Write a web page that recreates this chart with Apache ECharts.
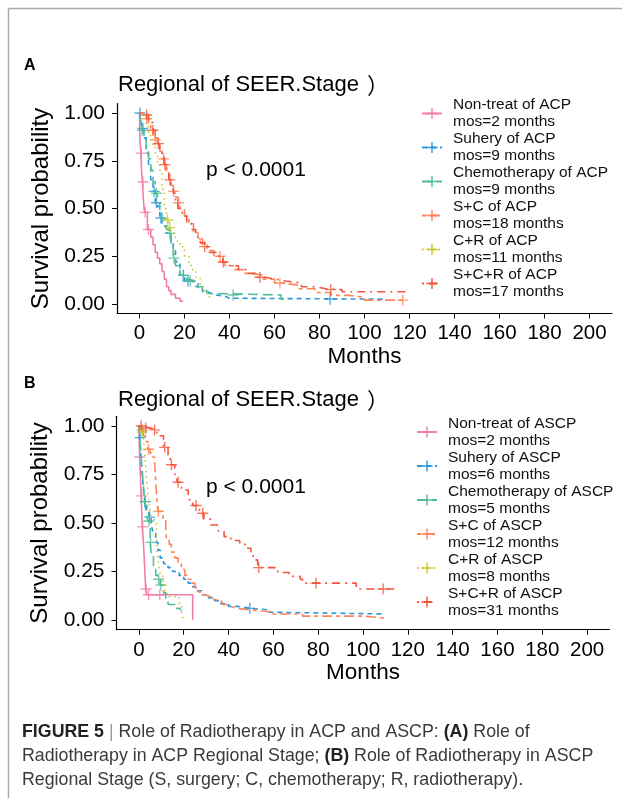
<!DOCTYPE html>
<html>
<head>
<meta charset="utf-8">
<title>Figure 5</title>
<script src="https://cdn.jsdelivr.net/npm/echarts@6/dist/echarts.min.js"></script>
<style>
  html, body { margin: 0; padding: 0; background: #fff; }
  #main { width: 622px; height: 798px; }
</style>
</head>
<body>
<div id="main"></div>
<script>
// axis ticks
var monthTicks = [0, 20, 40, 60, 80, 100, 120, 140, 160, 180, 200];
var survTicks = [0, 0.25, 0.5, 0.75, 1];

// groups + median overall survival (months)
var groupsA = ['Non-treat of ACP', 'Suhery of ACP', 'Chemotherapy of ACP', 'S+C of ACP', 'C+R of ACP', 'S+C+R of ACP'];
var mosA = [2, 9, 9, 18, 11, 17];
var groupsB = ['Non-treat of ASCP', 'Suhery of ASCP', 'Chemotherapy of ASCP', 'S+C of ASCP', 'C+R of ASCP', 'S+C+R of ASCP'];
var mosB = [2, 6, 5, 12, 8, 31];

// ---- panel A : ACP ----
var ntA_t = [0, 0.2, 0.6, 0.9, 1.3, 1.7, 2.2, 3.5, 5, 6, 7, 8, 9, 10, 11, 12, 13, 14, 16, 18, 19];
var ntA_s = [1, 0.87, 0.79, 0.70, 0.64, 0.55, 0.48, 0.39, 0.35, 0.31, 0.27, 0.24, 0.21, 0.17, 0.13, 0.09, 0.07, 0.05, 0.03, 0.015, 0.01];
var ntA_c = [[0.7, 0.79], [1.5, 0.64], [2.5, 0.48], [4, 0.39]];

var suA_t = [0, 0.5, 1, 2, 3, 4, 5, 6, 7, 8, 9, 10, 12, 14, 15, 16, 18, 20, 23, 26, 28, 30, 32, 34, 38, 40, 110];
var suA_s = [1, 0.97, 0.92, 0.87, 0.79, 0.72, 0.65, 0.59, 0.53, 0.51, 0.45, 0.41, 0.37, 0.33, 0.28, 0.22, 0.15, 0.12, 0.11, 0.08, 0.065, 0.055, 0.047, 0.04, 0.03, 0.025, 0.025];
var suA_c = [[0.2, 1], [1.5, 0.92], [6.5, 0.59], [7.5, 0.53], [9.5, 0.45], [19.5, 0.15], [21.5, 0.12], [84.7, 0.025]];

var chA_t = [0, 0.5, 1, 2, 3, 4, 5, 6, 7, 8, 9, 10, 11, 12, 13, 14, 15, 16, 18, 20, 22, 25, 28, 30, 32, 63, 65];
var chA_s = [1, 0.96, 0.91, 0.86, 0.81, 0.76, 0.70, 0.64, 0.58, 0.53, 0.49, 0.45, 0.41, 0.39, 0.37, 0.30, 0.24, 0.20, 0.15, 0.13, 0.12, 0.09, 0.07, 0.055, 0.047, 0.025, 0.025];
var chA_c = [[1.2, 0.91], [7.5, 0.58], [13.5, 0.37], [15.3, 0.24], [19.5, 0.15], [22.5, 0.12], [41.6, 0.047]];

var scA_t = [0, 2, 3, 4, 5, 6, 7, 8, 9, 10, 11, 12, 13, 14, 15, 16, 17, 18, 20, 22, 24, 26, 28, 30, 33, 36, 38, 42, 46, 50, 55, 60, 63, 70, 78, 85, 93, 100, 118];
var scA_s = [1, 0.99, 0.97, 0.95, 0.92, 0.89, 0.86, 0.83, 0.80, 0.76, 0.73, 0.69, 0.66, 0.62, 0.59, 0.56, 0.53, 0.50, 0.46, 0.42, 0.38, 0.34, 0.31, 0.28, 0.25, 0.22, 0.20, 0.18, 0.16, 0.15, 0.13, 0.11, 0.10, 0.08, 0.06, 0.045, 0.035, 0.02, 0.02];
var scA_c = [[3.3, 0.97], [7, 0.86], [10.7, 0.76], [15.2, 0.59], [17.4, 0.53], [35.8, 0.25], [62.4, 0.11], [117, 0.02]];

var crA_t = [0, 2, 3, 4, 5, 6, 7, 8, 9, 10, 11, 12, 13, 14, 16, 18, 20, 22, 23, 25, 27, 29, 31, 33];
var crA_s = [1, 0.98, 0.94, 0.90, 0.86, 0.82, 0.78, 0.74, 0.70, 0.60, 0.50, 0.44, 0.40, 0.37, 0.33, 0.30, 0.25, 0.21, 0.18, 0.14, 0.09, 0.056, 0.038, 0.035];
var crA_c = [[12.5, 0.44], [13.5, 0.40]];

var scrA_t = [0, 2, 4, 5, 6, 7, 8, 9, 10, 11, 12, 13, 14, 15, 16, 17, 19, 21, 23, 25, 27, 29, 31, 34, 37, 40, 44, 48, 52, 56, 60, 65, 72, 78, 83, 90, 119];
var scrA_s = [1, 0.99, 0.97, 0.95, 0.91, 0.87, 0.84, 0.80, 0.77, 0.73, 0.69, 0.65, 0.61, 0.58, 0.54, 0.50, 0.46, 0.43, 0.39, 0.35, 0.32, 0.30, 0.27, 0.25, 0.22, 0.20, 0.18, 0.16, 0.14, 0.13, 0.12, 0.11, 0.09, 0.08, 0.075, 0.064, 0.064];
var scrA_c = [[3.2, 0.99], [6, 0.91], [8.4, 0.84], [11.3, 0.73], [13.5, 0.65], [29, 0.30], [37.2, 0.22], [53.5, 0.14], [85, 0.075]];

// ---- panel B : ASCP ----
var ntB_t = [0, 0.3, 0.6, 1, 1.5, 2, 2.5, 3, 3.6, 24];
var ntB_s = [1, 0.84, 0.76, 0.64, 0.48, 0.40, 0.29, 0.16, 0.13, 0];
var ntB_c = [[0.4, 0.84], [1.2, 0.64], [1.7, 0.48], [3.2, 0.16], [4.3, 0.13], [9.3, 0.13]];

var suB_t = [0, 0.3, 0.8, 1.3, 2, 2.6, 3.5, 4.5, 5.5, 6, 7.5, 8.5, 9.5, 11, 13, 15, 18, 20, 22, 24, 26, 28, 30, 33, 36, 40, 44, 50, 57, 59, 110];
var suB_s = [1, 0.94, 0.86, 0.77, 0.68, 0.61, 0.56, 0.53, 0.51, 0.46, 0.40, 0.36, 0.32, 0.29, 0.27, 0.25, 0.23, 0.21, 0.19, 0.17, 0.15, 0.13, 0.115, 0.10, 0.085, 0.07, 0.06, 0.053, 0.04, 0.031, 0.031];
var suB_c = [[0.5, 0.94], [2.8, 0.61], [4.8, 0.53], [49.5, 0.06]];

var chB_t = [0, 0.5, 1, 1.5, 2, 2.6, 3.2, 4, 5, 5.5, 6.5, 7.5, 8.5, 9.5, 11, 12, 13, 16, 18, 19];
var chB_s = [1, 0.93, 0.85, 0.77, 0.69, 0.61, 0.55, 0.51, 0.40, 0.34, 0.28, 0.23, 0.21, 0.18, 0.14, 0.11, 0.08, 0.06, 0.05, 0.05];
var chB_c = [[2.8, 0.61], [4.5, 0.51], [5.2, 0.40], [8.8, 0.21], [9.8, 0.18]];

var scB_t = [0, 1, 2, 3, 4, 5, 6, 7, 7.5, 8, 8.5, 10.8, 12, 12.3, 13.5, 14.5, 16, 17.5, 19, 20.5, 22, 23.5, 25, 26.5, 28, 29.5, 32, 35, 37, 39, 41, 43.5, 49, 55.4, 59, 73, 100, 110];
var scB_s = [1, 0.98, 0.95, 0.92, 0.88, 0.86, 0.84, 0.82, 0.72, 0.62, 0.56, 0.52, 0.46, 0.42, 0.39, 0.35, 0.32, 0.29, 0.26, 0.23, 0.21, 0.19, 0.165, 0.145, 0.13, 0.12, 0.105, 0.095, 0.08, 0.07, 0.06, 0.053, 0.045, 0.043, 0.031, 0.02, 0.01, 0.005];
var scB_c = [[1.5, 0.98], [4.3, 0.88], [8.7, 0.56]];

var crB_t = [0, 1, 2, 2.6, 3, 3.5, 4.2, 4.8, 5.4, 6.2, 7, 7.8, 8.3, 8.8, 9.5, 10.5, 11.5, 12.5, 18, 19, 19.7];
var crB_s = [1, 0.97, 0.93, 0.87, 0.78, 0.72, 0.64, 0.58, 0.54, 0.52, 0.51, 0.42, 0.34, 0.28, 0.24, 0.20, 0.15, 0.12, 0.08, 0.04, 0.01];
var crB_c = [[1.5, 0.97]];

var scrB_t = [0, 2, 5, 8, 11, 13, 14, 16, 17, 19, 22, 24, 27, 29, 32, 35, 38, 41, 45, 48, 50, 51, 53, 62, 67, 72, 73, 97, 115];
var scrB_s = [1, 0.99, 0.98, 0.95, 0.89, 0.85, 0.80, 0.75, 0.71, 0.67, 0.62, 0.59, 0.55, 0.52, 0.49, 0.46, 0.43, 0.41, 0.39, 0.37, 0.34, 0.31, 0.27, 0.245, 0.225, 0.21, 0.19, 0.16, 0.16];
var scrB_c = [[1, 1], [3, 0.99], [7, 0.98], [11.5, 0.89], [14.5, 0.80], [17.5, 0.71], [25.5, 0.59], [28.5, 0.55], [53.5, 0.27], [79, 0.19], [109, 0.16]];

var colors = ['#F47DA8', '#2C97DB', '#4FBE97', '#FF845A', '#C6C62A', '#F4553B'];
var dashes = ['solid', [5, 4], [10, 5], [4, 4, 10, 4], [1.5, 4], [2, 5, 8, 5]];
var FONT = 'Liberation Sans, Arial, Noto Sans CJK SC, sans-serif';
var plus = 'path://M7,0h2v7h7v2h-7v7h-2v-7h-7v-2h7z';

var chartDom = document.getElementById('main');
var myChart = echarts.init(chartDom);

function pairs(t, s) {
    return t.map(function (v, i) { return [v, s[i]]; });
}

var series = [];
function addPanel(p, names, curves, censors) {
    names.forEach(function (name, i) {
        series.push({
            type: 'line',
            name: name,
            xAxisIndex: p,
            yAxisIndex: p,
            step: 'end',
            data: pairs(curves[i][0], curves[i][1]),
            showSymbol: false,
            symbol: plus,
            symbolSize: 10,
            silent: true,
            lineStyle: { color: colors[i], width: 1.6, type: dashes[i] },
            itemStyle: { color: colors[i] },
            z: 2 + i
        });
        series.push({
            type: 'scatter',
            name: name + ' censor',
            xAxisIndex: p,
            yAxisIndex: p,
            data: censors[i],
            symbol: plus,
            symbolSize: 11,
            silent: true,
            itemStyle: { color: colors[i] },
            z: 2 + i
        });
    });
}
addPanel(0, groupsA,
    [[ntA_t, ntA_s], [suA_t, suA_s], [chA_t, chA_s], [scA_t, scA_s], [crA_t, crA_s], [scrA_t, scrA_s]],
    [ntA_c, suA_c, chA_c, scA_c, crA_c, scrA_c]);
addPanel(1, groupsB,
    [[ntB_t, ntB_s], [suB_t, suB_s], [chB_t, chB_s], [scB_t, scB_s], [crB_t, crB_s], [scrB_t, scrB_s]],
    [ntB_c, suB_c, chB_c, scB_c, crB_c, scrB_c]);

function xAxisOf(p) {
    return {
        gridIndex: p, type: 'value', min: -10, max: 210,
        name: 'Months', nameLocation: 'middle', nameGap: 32,
        nameTextStyle: { fontSize: 22.5, color: '#000', fontFamily: FONT },
        axisLine: { show: true, onZero: false, lineStyle: { color: '#000', width: 1.2 } },
        axisTick: { show: true, customValues: monthTicks, length: 5, lineStyle: { color: '#000' } },
        axisLabel: { customValues: monthTicks, margin: 10, fontSize: 20.5, color: '#000', fontFamily: FONT },
        splitLine: { show: false }
    };
}
function yAxisOf(p) {
    return {
        gridIndex: p, type: 'value', min: -0.05, max: 1.05,
        name: 'Survival probability', nameLocation: 'middle', nameGap: 57, nameRotate: 90,
        nameTextStyle: { fontSize: 24, color: '#000', fontFamily: FONT },
        axisLine: { show: true, onZero: false, lineStyle: { color: '#000', width: 1.2 } },
        axisTick: { show: true, customValues: survTicks, length: 5, lineStyle: { color: '#000' } },
        axisLabel: {
            customValues: survTicks, margin: 12, fontSize: 21, color: '#000', fontFamily: FONT,
            formatter: function (v) { return v.toFixed(2); }
        },
        splitLine: { show: false }
    };
}
function legendOf(names, mos, left, top) {
    return {
        orient: 'vertical', left: left, top: top, padding: 0, itemGap: 0,
        itemWidth: 20, itemHeight: 14, selectedMode: false,
        data: names,
        formatter: function (name) {
            return name + '\nmos=' + mos[names.indexOf(name)] + ' months';
        },
        textStyle: { fontSize: 15.5, lineHeight: 17, color: '#111', fontFamily: FONT, padding: [0, 0, 0, 6] }
    };
}
function titleOf(top) {
    return {
        text: 'Regional of SEER.Stage{p|）}', left: 113, top: top,
        textStyle: {
            fontSize: 22, fontWeight: 'normal', color: '#000', fontFamily: FONT,
            rich: { p: { fontSize: 22, color: '#000', fontFamily: 'Noto Sans CJK SC', padding: [0, 0, 0, 8] } }
        }
    };
}

var option = {
    animation: false,
    backgroundColor: '#fff',
    title: [titleOf(69), titleOf(384)],
    grid: [
        { left: 117, top: 103.5, width: 495, height: 210 },
        { left: 116.5, top: 416.3, width: 493, height: 213.4 }
    ],
    xAxis: [xAxisOf(0), xAxisOf(1)],
    yAxis: [yAxisOf(0), yAxisOf(1)],
    legend: [
        legendOf(groupsA, mosA, 421, 96.5),
        legendOf(groupsB, mosB, 416, 415)
    ],
    graphic: [
        { type: 'line', shape: { x1: 8.5, y1: 8.5, x2: 622, y2: 8.5 }, style: { stroke: '#aaa', lineWidth: 1.5 } },
        { type: 'line', shape: { x1: 8.5, y1: 8.5, x2: 8.5, y2: 798 }, style: { stroke: '#aaa', lineWidth: 1.5 } },
        { type: 'text', left: 24, top: 58, style: { text: 'A', font: 'bold 16px ' + FONT, fill: '#000' } },
        { type: 'text', left: 24, top: 376, style: { text: 'B', font: 'bold 16px ' + FONT, fill: '#000' } },
        { type: 'text', left: 206, top: 160, style: { text: 'p < 0.0001', font: '21px ' + FONT, fill: '#000' } },
        { type: 'text', left: 206, top: 477, style: { text: 'p < 0.0001', font: '21px ' + FONT, fill: '#000' } },
        {
            type: 'text', left: 22, top: 720,
            style: {
                text: '{b|FIGURE 5} {s||} Role of Radiotherapy in ACP and ASCP: {b|(A)} Role of\n' +
                      'Radiotherapy in ACP Regional Stage; {b|(B)} Role of Radiotherapy in ASCP\n' +
                      'Regional Stage (S, surgery; C, chemotherapy; R, radiotherapy).',
                font: '17.8px ' + FONT,
                fill: '#3a3a3a',
                lineHeight: 24,
                rich: {
                    b: { fontWeight: 'bold', fontSize: 17.8, fontFamily: FONT, fill: '#222', lineHeight: 24 },
                    s: { fontSize: 17.8, fontFamily: FONT, fill: '#999', lineHeight: 24 }
                }
            }
        }
    ],
    series: series
};

option && myChart.setOption(option);
</script>
</body>
</html>
